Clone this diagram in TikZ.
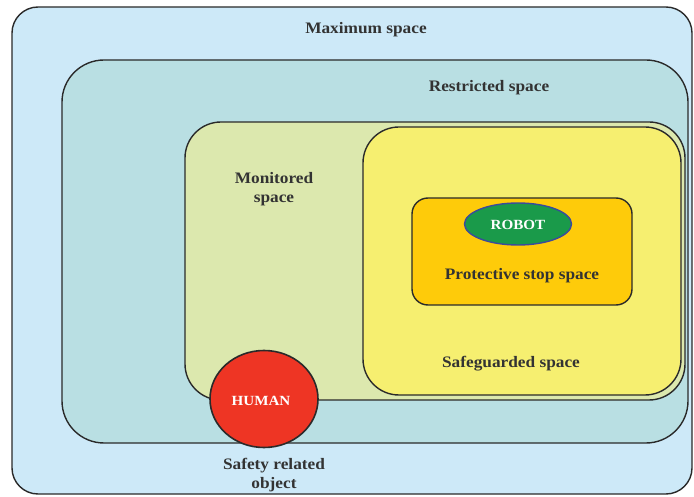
\documentclass[tikz,border=0pt]{standalone}
\usepackage{fontspec}
\setmainfont{Liberation Serif}[FakeStretch=1.08]
\usetikzlibrary{shapes.geometric}
\definecolor{bmax}{HTML}{CDE9F8}
\definecolor{bres}{HTML}{B9DFE3}
\definecolor{bmon}{HTML}{DCE8AE}
\definecolor{bsaf}{HTML}{F6EF70}
\definecolor{bpro}{HTML}{FECB0A}
\definecolor{bhum}{HTML}{EE3524}
\definecolor{brob}{HTML}{1A9A4A}
\definecolor{brobline}{HTML}{3B4A9C}
\definecolor{txt}{HTML}{333333}
\definecolor{edge}{HTML}{2A2A2A}
\tikzset{
  zone/.style={draw=edge, line width=1.4pt, rectangle, inner sep=0pt, outer sep=0pt},
  lbl/.style={font=\bfseries\fontsize{16}{19}\selectfont, text=txt, align=center, inner sep=0pt},
  wlbl/.style={font=\bfseries\fontsize{14}{17}\selectfont, text=white, inner sep=0pt}
}
\begin{document}
\begin{tikzpicture}[x=1pt,y=-1pt]
\useasboundingbox (0,0) rectangle (694,497);
\node[zone, fill=bmax, rounded corners=26pt, minimum width=680pt, minimum height=487pt] (max) at (352,250.5) {};
\node[zone, fill=bres, rounded corners=42pt, minimum width=626pt, minimum height=383pt] (res) at (375,251.5) {};
\node[zone, fill=bmon, rounded corners=36pt, minimum width=500pt, minimum height=278pt] (mon) at (435,261) {};
\node[zone, fill=bsaf, rounded corners=36pt, minimum width=318pt, minimum height=268pt] (saf) at (522,261) {};
\node[zone, fill=bpro, rounded corners=16pt, minimum width=220pt, minimum height=107pt] (pro) at (522,251.5) {};
\node[ellipse, draw=brobline, line width=1.4pt, fill=brob, minimum width=107pt, minimum height=42pt, inner sep=0pt] (robot) at (518,224) {};
\node[ellipse, draw=edge, line width=1.6pt, fill=bhum, minimum width=108pt, minimum height=97pt, inner sep=0pt] (human) at (264,399) {};

\node[lbl] (tmax) at (366,30) {Maximum space};
\node[lbl] (tres) at (489,88) {Restricted space};
\node[lbl] (tmon) at (274,189) {Monitored\\space};
\node[lbl] (tsaf) at (511,364) {Safeguarded space};
\node[lbl] (tpro) at (522,276) {Protective stop space};
\node[wlbl] (trob) at (518,225) {ROBOT};
\node[wlbl] (thum) at (261,401) {HUMAN};
\node[lbl] (tobj) at (274,475) {Safety related\\object};
\end{tikzpicture}
\end{document}
